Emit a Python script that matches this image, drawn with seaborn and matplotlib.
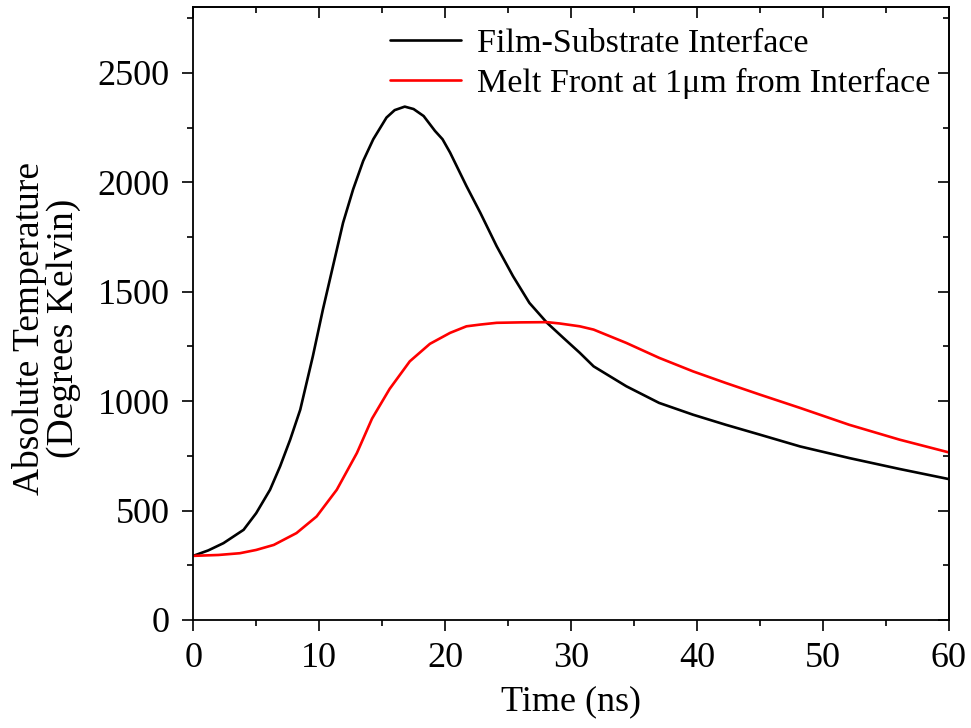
import numpy as np
import pandas as pd
import matplotlib
matplotlib.use("Agg")
import matplotlib.pyplot as plt
import seaborn as sns
from matplotlib.ticker import MultipleLocator

# Data
film_x = [0, 1.2, 2.4, 4.0, 5.0, 6.1, 6.9, 7.7, 8.5, 9.5, 10.3, 11.1, 11.9, 12.7,
          13.5, 14.3, 15.35, 16.0, 16.8, 17.5, 18.3, 19.2, 19.8, 20.4, 21.7, 22.8,
          24.1, 25.4, 26.7, 28.1, 29.4, 30.7, 31.8, 34.4, 37.0, 39.7, 42.3, 45.0,
          48.2, 52.1, 56.1, 60.0]
film_y = [293, 318, 351, 412, 488, 595, 702, 824, 961, 1205, 1419, 1617, 1815, 1968,
          2098, 2197, 2296, 2330, 2346, 2335, 2303, 2235, 2197, 2136, 1983, 1861,
          1708, 1571, 1449, 1358, 1289, 1221, 1159, 1068, 992, 938, 892, 847,
          793, 740, 690, 644]

melt_x = [0, 2.0, 3.7, 5.0, 6.4, 8.2, 9.8, 11.4, 13.0, 14.2, 15.6, 17.2, 18.8,
          20.4, 21.7, 22.8, 24.1, 26.0, 28.1, 29.1, 30.7, 31.8, 34.4, 37.0, 39.7,
          42.3, 45.0, 48.2, 52.1, 56.1, 60.0]
melt_y = [293, 297, 305, 320, 343, 397, 473, 595, 763, 920, 1056, 1182, 1262,
          1312, 1342, 1350, 1358, 1360, 1361, 1355, 1342, 1327, 1266, 1198, 1136,
          1083, 1030, 969, 892, 824, 766]

labels = ["Film-Substrate Interface", "Melt Front at 1\u03bcm from Interface"]

df = pd.concat([
    pd.DataFrame({"Time": film_x, "Temp": film_y, "Series": labels[0]}),
    pd.DataFrame({"Time": melt_x, "Temp": melt_y, "Series": labels[1]}),
])

sns.set_style("ticks")
plt.rcParams["font.family"] = ["Liberation Serif", "DejaVu Serif"]
plt.rcParams.update({
    "text.color": "black", "axes.labelcolor": "black",
    "xtick.color": "black", "ytick.color": "black",
    "lines.solid_joinstyle": "round", "lines.solid_capstyle": "round",
})

fig = plt.figure(figsize=(9.71, 7.28), dpi=100)
ax = fig.add_axes([0.199, 0.1484, 0.778, 0.8416])

sns.lineplot(data=df, x="Time", y="Temp", hue="Series", hue_order=labels,
             palette=["#000000", "#ff0000"], linewidth=1.9, ax=ax, sort=True,
             estimator=None)

ax.set_xlim(0, 60)
ax.set_ylim(0, 2800)
ax.xaxis.set_major_locator(MultipleLocator(10))
ax.xaxis.set_minor_locator(MultipleLocator(5))
ax.yaxis.set_major_locator(MultipleLocator(500))
ax.yaxis.set_minor_locator(MultipleLocator(250))

for s in ax.spines.values():
    s.set_visible(True)
    s.set_linewidth(1.3)
    s.set_color("black")

ax.tick_params(axis="both", which="major", direction="out", length=8, width=1.2,
               labelsize=26, colors="black")
ax.tick_params(axis="both", which="minor", direction="out", length=4, width=1.2)
ax.tick_params(axis="x", which="major", pad=8)
ax.tick_params(axis="y", which="major", pad=9)

secx = ax.secondary_xaxis("top")
secx.xaxis.set_major_locator(MultipleLocator(10))
secx.xaxis.set_minor_locator(MultipleLocator(5))
secx.tick_params(which="major", direction="in", length=8, width=1.2, labeltop=False)
secx.tick_params(which="minor", direction="in", length=4, width=1.2)
secx.spines["top"].set_linewidth(1.3)

secy = ax.secondary_yaxis("right")
secy.yaxis.set_major_locator(MultipleLocator(500))
secy.yaxis.set_minor_locator(MultipleLocator(250))
secy.tick_params(which="major", direction="in", length=8, width=1.2, labelright=False)
secy.tick_params(which="minor", direction="in", length=4, width=1.2)
secy.spines["right"].set_linewidth(1.3)

ax.set_xlabel("Time (ns)", fontsize=26, labelpad=7)
ax.set_ylabel("Absolute Temperature\n(Degrees Kelvin)", fontsize=27, linespacing=1.0)
ax.yaxis.set_label_coords(-0.148, 0.476)

leg = ax.legend(loc="upper right", frameon=False, fontsize=24.5, handlelength=2.1,
                handletextpad=0.47, borderaxespad=0.2, labelspacing=0.28,
                bbox_to_anchor=(1.003, 1.0))
for line in leg.get_lines():
    line.set_linewidth(1.9)

fig.savefig("out.png", dpi=100)
